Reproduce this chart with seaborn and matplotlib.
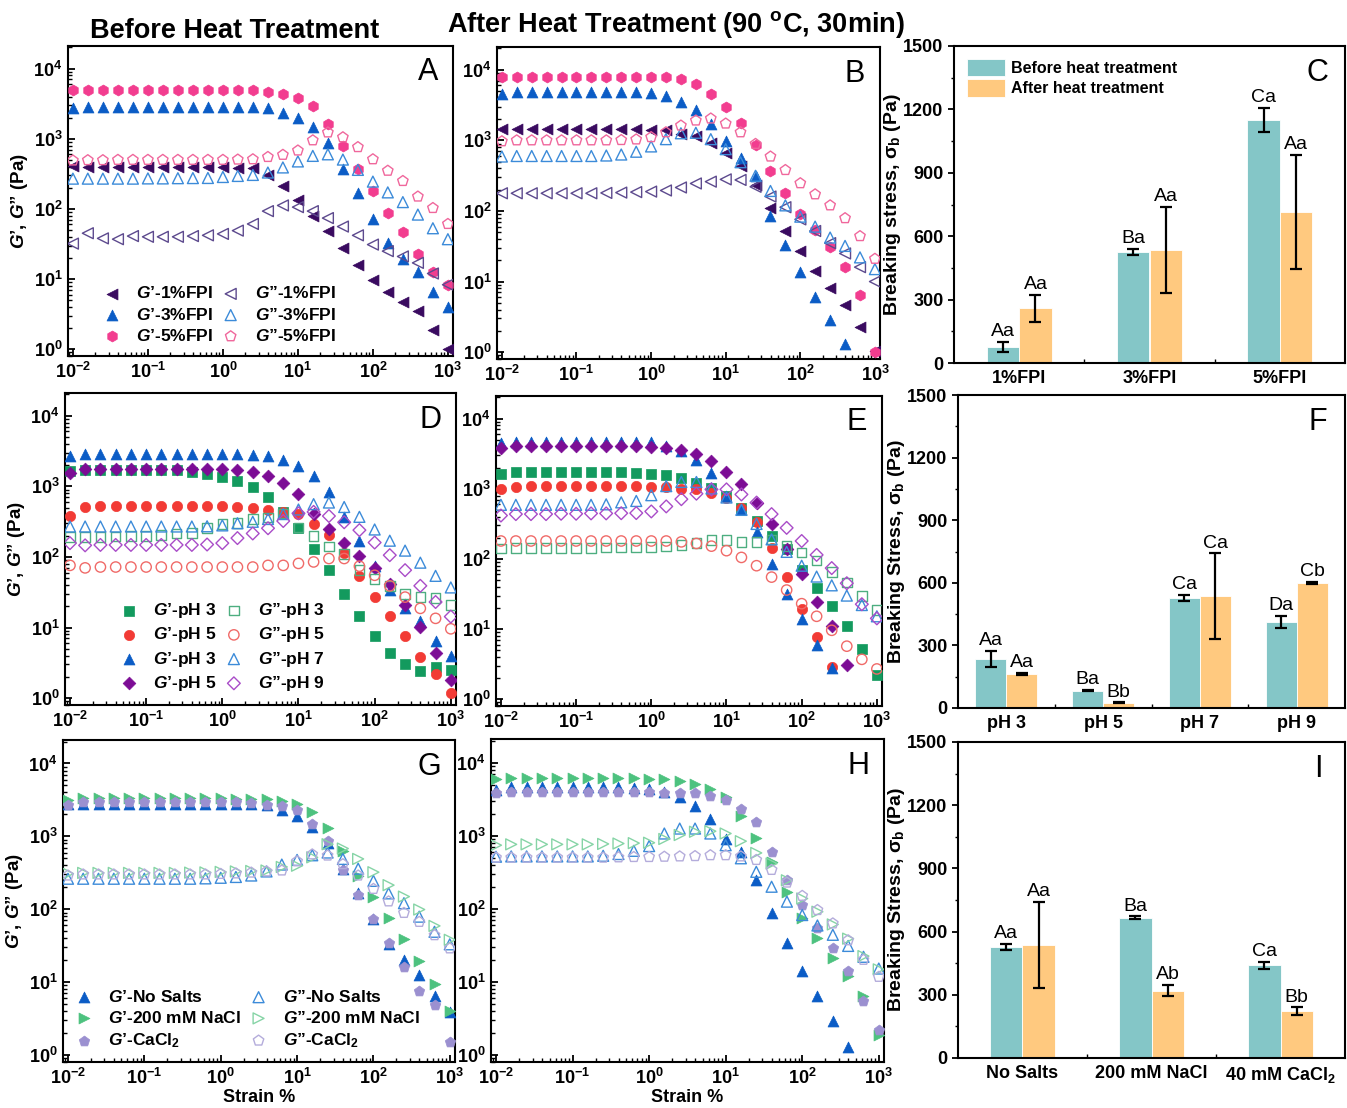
import numpy as np
import pandas as pd
import matplotlib
matplotlib.use("Agg")
import matplotlib.pyplot as plt
from matplotlib.ticker import LogLocator, FuncFormatter, NullFormatter, MultipleLocator, FixedLocator
from matplotlib.container import BarContainer
import seaborn as sns

nan = np.nan

# ---------------- data ----------------
strain = [0.01, 0.0158, 0.0251, 0.0398, 0.0631, 0.1, 0.158, 0.251, 0.398, 0.631,
          1, 1.58, 2.51, 3.98, 6.31, 10, 15.8, 25.1, 39.8, 63.1, 100, 158, 251, 398, 631, 1000]

# Panel A (before heat, FPI concentration)
Gp_1FPI_before = [405, 400, 400, 400, 400, 400, 398, 396, 395, 393, 390, 385, 380, 300, 215, 135, 80, 49, 28, 16, 9.7, 6.6, 4.7, 3.5, 1.9, 1.0]
Gpp_1FPI_before = [32, 45, 38, 37, 41, 40, 40, 40, 41, 42, 44, 49, 61, 93, 112, 106, 93, 74, 56, 42, 31, 25, 21, 17, 12, 8.3]
Gp_3FPI_before = [2760, 2850, 2880, 2880, 2880, 2880, 2880, 2880, 2870, 2860, 2850, 2840, 2800, 2700, 2330, 1990, 1470, 870, 370, 167, 72, 33, 19, 12.5, 6.5, 4.0]
Gpp_3FPI_before = [270, 270, 270, 270, 270, 272, 272, 274, 275, 276, 285, 295, 305, 330, 390, 475, 570, 600, 505, 360, 245, 172, 125, 83, 53, 37]
Gp_5FPI_before = [4900, 5000, 5000, 5000, 5000, 5000, 5000, 5000, 5000, 5000, 5000, 4950, 4900, 4650, 4300, 3850, 2900, 1600, 790, 370, 180, 88, 47, 23, 12.5, 8.3]
Gpp_5FPI_before = [490, 495, 495, 500, 500, 500, 500, 500, 500, 500, 500, 505, 510, 550, 590, 680, 950, 1230, 1050, 760, 510, 350, 250, 150, 103, 61]

# Panel B (after heat, FPI concentration)
Gp_1FPI_after = [1450, 1450, 1450, 1450, 1450, 1450, 1450, 1450, 1440, 1430, 1420, 1380, 1250, 1150, 920, 660, 430, 235, 110, 52, 27, 14, 8.2, 4.6, 2.3, 1.05]
Gpp_1FPI_after = [178, 178, 178, 178, 178, 178, 178, 180, 182, 185, 188, 195, 215, 245, 260, 280, 275, 220, 160, 113, 76, 52, 35, 25, 16, 10]
Gp_3FPI_after = [4600, 4800, 4800, 4800, 4800, 4800, 4800, 4800, 4800, 4800, 4700, 4200, 3500, 2650, 1730, 970, 560, 310, 85, 33, 13.7, 6.0, 2.9, 1.3, nan, nan]
Gpp_3FPI_after = [590, 600, 600, 600, 600, 600, 600, 610, 630, 690, 820, 1040, 1260, 1280, 1040, 750, 490, 315, 192, 120, 83, 60, 42, 32, 22, 15]
Gp_5FPI_after = [7900, 8000, 8000, 8000, 8000, 8000, 8000, 8000, 8000, 8000, 7900, 7900, 7300, 6200, 4600, 3000, 1770, 850, 370, 182, 91, 54, 31, 16, 6.4, 1.0]
Gpp_5FPI_after = [970, 1000, 1000, 1000, 1000, 1000, 1000, 1000, 1010, 1030, 1110, 1300, 1620, 1910, 2040, 1730, 1300, 890, 590, 380, 247, 172, 120, 79, 44, 21]

# Panel C (breaking stress, FPI)
cat_C = ['1%FPI', '3%FPI', '5%FPI']
before_C = [75, 525, 1150]
before_err_C = [25, 15, 58]
after_C = [258, 535, 715]
after_err_C = [65, 205, 270]
before_lab_C = ['Aa', 'Ba', 'Ca']
after_lab_C = ['Aa', 'Aa', 'Aa']

# Panel D (before heat, pH)
Gp_pH3_before = [1670, 1700, 1700, 1700, 1700, 1700, 1700, 1700, 1600, 1480, 1350, 1210, 980, 710, 440, 260, 130, 66, 30, 14.7, 7.5, 4.4, 3.0, 2.4, 2.8, 2.5]
Gpp_pH3_before = [190, 190, 192, 195, 197, 200, 205, 215, 220, 255, 290, 300, 345, 360, 415, 260, 200, 140, 110, 66, 49, 39, 30, 27, 26, 21]
Gp_pH5_before = [380, 510, 520, 520, 520, 520, 520, 520, 520, 520, 520, 515, 500, 470, 440, 400, 295, 205, 114, 54, 27.5, 14.4, 7.5, 3.8, 2.2, 1.2]
Gpp_pH5_before = [76, 70, 72, 72, 72, 72, 72, 72, 72, 72, 72, 72, 72, 76, 76, 81, 85, 95, 95, 74, 55, 39, 27, 18.7, 13.5, 9.6]
Gp_pH7_before = [2700, 2850, 2850, 2850, 2850, 2850, 2850, 2850, 2850, 2850, 2850, 2850, 2800, 2650, 2350, 1970, 1420, 830, 370, 166, 74, 34, 19, 12.3, 6.4, 4.0]
Gpp_pH7_before = [270, 270, 270, 270, 270, 270, 270, 270, 270, 272, 280, 300, 315, 345, 405, 470, 560, 590, 510, 370, 245, 170, 123, 83, 54, 37]
Gp_pH9_before = [1560, 1750, 1750, 1750, 1750, 1750, 1750, 1750, 1750, 1750, 1750, 1700, 1590, 1390, 1120, 770, 410, 245, 157, 102, 69, 41, 21, 10.3, 4.3, 1.8]
Gpp_pH9_before = [157, 146, 148, 148, 148, 148, 148, 148, 148, 150, 157, 185, 215, 255, 323, 415, 435, 380, 310, 240, 160, 106, 65, 39, 23, 14.3]

# Panel E (after heat, pH)
Gp_pH3_after = [1620, 1730, 1730, 1730, 1730, 1730, 1730, 1730, 1710, 1680, 1620, 1550, 1420, 1210, 1030, 790, 540, 350, 213, 140, 70, 39, 21, 11, 5.2, 2.2]
Gpp_pH3_after = [141, 143, 143, 143, 143, 143, 143, 145, 145, 146, 148, 150, 157, 170, 185, 185, 175, 175, 190, 154, 124, 95, 65, 46, 29.6, 18.7]
Gp_pH5_after = [980, 1050, 1090, 1090, 1090, 1090, 1090, 1090, 1080, 1080, 1070, 1050, 1000, 980, 860, 750, 540, 340, 144, 55, 19.6, 7.7, 2.9, nan, nan, nan]
Gpp_pH5_after = [180, 180, 180, 180, 180, 180, 180, 180, 180, 180, 180, 180, 175, 166, 152, 131, 105, 80, 55, 36, 23, 15.2, 9.6, 5.7, 3.7, 2.7]
Gp_pH7_after = [4500, 4700, 4700, 4700, 4700, 4700, 4700, 4700, 4700, 4700, 4650, 4100, 3450, 2600, 1700, 790, 510, 240, 85, 32, 13.7, 5.9, 2.8, nan, nan, nan]
Gpp_pH7_after = [590, 590, 590, 590, 590, 590, 590, 600, 640, 670, 810, 1090, 1250, 1250, 1010, 750, 500, 315, 190, 126, 80, 56, 42, 30, 22, 15.2]
Gp_pH9_after = [3800, 4100, 4100, 4100, 4100, 4100, 4100, 4100, 4100, 4050, 4000, 3800, 3550, 3100, 2450, 1730, 1150, 620, 315, 140, 60, 24.5, 11.2, 3.1, nan, nan]
Gpp_pH9_after = [415, 435, 435, 435, 440, 440, 445, 445, 448, 450, 475, 560, 710, 850, 980, 980, 830, 635, 435, 277, 180, 114, 74, 45, 22.6, 14.2]

# Panel F (breaking stress, pH)
cat_F = ['pH 3', 'pH 5', 'pH 7', 'pH 9']
before_F = [235, 83, 527, 413]
before_err_F = [40, 3, 15, 30]
after_F = [163, 25, 537, 600]
after_err_F = [7, 2, 205, 5]
before_lab_F = ['Aa', 'Ba', 'Ca', 'Da']
after_lab_F = ['Aa', 'Bb', 'Ca', 'Cb']

# Panel G (before heat, salts)
Gp_NoSalt_before = [2800, 2800, 2800, 2800, 2800, 2800, 2800, 2800, 2800, 2800, 2800, 2780, 2750, 2700, 2280, 1910, 1350, 810, 360, 165, 73, 33, 20, 12.4, 6.5, 3.9]
Gp_NaCl_before = [3150, 3320, 3320, 3320, 3320, 3320, 3320, 3320, 3320, 3320, 3320, 3300, 3280, 3250, 3100, 2800, 2150, 1290, 620, 290, 145, 76, 39, 19.5, 9.5, 4.0]
Gp_CaCl2_before = [2700, 2950, 2950, 2950, 2950, 2950, 2950, 2950, 2950, 2950, 2950, 2930, 2900, 2700, 2570, 2280, 1500, 860, 350, 158, 73, 34, 15.9, 7.6, 4.9, 1.5]
Gpp_NoSalt_before = [262, 262, 262, 262, 262, 262, 262, 262, 262, 265, 270, 277, 290, 330, 410, 475, 550, 600, 490, 360, 245, 165, 121, 79, 49, 33]
Gpp_NaCl_before = [308, 315, 315, 315, 315, 315, 315, 315, 318, 320, 325, 330, 335, 340, 380, 395, 515, 780, 680, 490, 322, 214, 149, 99, 59, 38]
Gpp_CaCl2_before = [290, 300, 300, 300, 300, 300, 300, 300, 300, 300, 305, 310, 318, 330, 340, 455, 565, 545, 415, 290, 190, 128, 89, 67, 44, 29]

# Panel H (after heat, salts)
Gp_NoSalt_after = [4200, 4650, 4650, 4650, 4650, 4650, 4650, 4650, 4650, 4550, 4400, 4000, 3400, 2520, 1700, 890, 600, 245, 88, 34, 14.2, 6.3, 2.95, 1.3, nan, nan]
Gp_NaCl_after = [6000, 6150, 6150, 6150, 6150, 6150, 6150, 6150, 6150, 6100, 6000, 5900, 5600, 5150, 4300, 3400, 1850, 920, 440, 170, 74, 40, 21, 12, 6.3, 1.9]
Gp_CaCl2_after = [3850, 4000, 4000, 4000, 4000, 4000, 4000, 4000, 4000, 4000, 4000, 3850, 3850, 3800, 3500, 3050, 2350, 1550, 600, 250, 112, 55, 29, 14.2, 5.4, 2.2]
Gpp_NoSalt_after = [515, 520, 520, 520, 520, 520, 520, 530, 560, 620, 720, 1070, 1250, 1250, 1070, 740, 490, 320, 200, 125, 82, 59, 44, 31, 22, 15.2]
Gpp_NaCl_after = [740, 760, 760, 760, 760, 760, 760, 770, 780, 790, 800, 900, 1020, 1130, 1150, 1070, 840, 580, 415, 245, 138, 91, 61, 39, 22.5, 14.8]
Gpp_CaCl2_after = [500, 500, 500, 500, 500, 500, 500, 500, 505, 510, 510, 515, 520, 525, 540, 540, 520, 465, 340, 228, 150, 96, 63, 37, 20, 11.7]

# Panel I (breaking stress, salts)
cat_I = ['No Salts', '200 mM NaCl', r'40 mM CaCl$_\mathbf{2}$']
before_I = [527, 665, 440]
before_err_I = [15, 7, 18]
after_I = [537, 320, 222]
after_err_I = [205, 28, 18]
before_lab_I = ['Aa', 'Ba', 'Ca']
after_lab_I = ['Aa', 'Ab', 'Bb']

# ---------------- style ----------------
plt.rcParams['font.family'] = ['Liberation Sans', 'DejaVu Sans']
plt.rcParams['font.weight'] = 'bold'
plt.rcParams['axes.labelweight'] = 'bold'
plt.rcParams['mathtext.fontset'] = 'custom'
plt.rcParams['mathtext.rm'] = 'Liberation Sans'
plt.rcParams['mathtext.it'] = 'Liberation Sans:italic'
plt.rcParams['mathtext.bf'] = 'Liberation Sans:bold'
plt.rcParams['mathtext.bfit'] = 'Liberation Sans:italic:bold'
plt.rcParams['mathtext.sf'] = 'Liberation Sans'
plt.rcParams['axes.linewidth'] = 1.5

W, H = 1347, 1108
fig = plt.figure(figsize=(W / 100, H / 100), dpi=100)


def rect(l, r, t, b):
    return [l / W, 1 - b / H, (r - l) / W, (b - t) / H]


GP = "$\\mathbfit{G}$\u2019"
GPP = "$\\mathbfit{G}$\u201D"

C_TEAL = '#84C6C7'
C_ORANGE = '#FFC97F'


def log_panel(box, series, letter, legend_kw=None, xlabel=False, ylabel=True):
    ax = fig.add_axes(rect(*box))
    for vals, marker, color, filled, size, label in series:
        if filled:
            sns.scatterplot(x=strain, y=vals, marker=marker, s=size, color=color,
                            edgecolor=color, linewidth=0.5, ax=ax, label=label, zorder=3)
        else:
            sns.scatterplot(x=strain, y=vals, marker=marker, s=size, facecolor='none',
                            edgecolor=color, linewidth=1.0, ax=ax, label=label, zorder=3)
    ax.set_xscale('log')
    ax.set_yscale('log')
    ax.set_xlim(0.0086, 1170)
    ax.set_ylim(0.8, 2.1e4)
    fmt = FuncFormatter(lambda v, p: r'$\mathbf{10^{%d}}$' % int(round(np.log10(v))))
    for axis in (ax.xaxis, ax.yaxis):
        axis.set_major_locator(LogLocator(base=10, numticks=12))
        axis.set_minor_locator(LogLocator(base=10, subs=np.arange(2, 10), numticks=12))
        axis.set_major_formatter(fmt)
        axis.set_minor_formatter(NullFormatter())
    ax.tick_params(which='major', direction='in', length=5, width=1.3, labelsize=13, pad=4)
    ax.tick_params(which='minor', direction='in', length=3, width=1.0)
    if ylabel:
        ax.set_ylabel(GP + ', ' + GPP + ' (Pa)', fontsize=13.5, labelpad=2)
    else:
        ax.set_ylabel('')
    if xlabel:
        ax.set_xlabel('Strain %', fontsize=13, labelpad=1)
    else:
        ax.set_xlabel('')
    ax.text(0.935, 0.915, letter, transform=ax.transAxes, ha='center', va='center',
            fontsize=22, fontweight='normal')
    if legend_kw is not None:
        ax.legend(frameon=False, ncol=2, prop={'size': 12.5, 'weight': 'bold'},
                  handletextpad=0.9, columnspacing=0.5, labelspacing=0.3,
                  borderpad=0.2, handlelength=1.0, **legend_kw)
    else:
        lg = ax.get_legend()
        if lg is not None:
            lg.remove()
    return ax


def bar_panel(box, cats, bvals, berr, avals, aerr, blab, alab, letter, ylabel,
              width, legend=False):
    ax = fig.add_axes(rect(*box))
    df = pd.DataFrame({
        'group': list(cats) + list(cats),
        'treat': ['Before heat treatment'] * len(cats) + ['After heat treatment'] * len(cats),
        'value': list(bvals) + list(avals),
    })
    sns.barplot(data=df, x='group', y='value', hue='treat',
                hue_order=['Before heat treatment', 'After heat treatment'],
                palette=[C_TEAL, C_ORANGE], saturation=1, width=width,
                errorbar=None, legend=False, ax=ax, edgecolor='white', linewidth=0.6)
    bars = [c for c in ax.containers if isinstance(c, BarContainer)]
    for cont, vals, errs, labs in zip(bars, [bvals, avals], [berr, aerr], [blab, alab]):
        for patch, v, e, lab in zip(cont, vals, errs, labs):
            xc = patch.get_x() + patch.get_width() / 2
            ax.errorbar(xc, v, yerr=e, fmt='none', ecolor='black', elinewidth=1.6,
                        capsize=4.5, capthick=1.6, zorder=4)
            ax.text(xc, v + e + 8, lab, ha='center', va='bottom', fontsize=14,
                    fontweight='normal')
    ax.set_ylim(0, 1500)
    ax.set_xlim(-0.5, len(cats) - 0.5)
    ax.yaxis.set_major_locator(MultipleLocator(300))
    ax.yaxis.set_minor_locator(MultipleLocator(150))
    ax.xaxis.set_minor_locator(FixedLocator(np.arange(0.5, len(cats) - 0.5, 1.0)))
    ax.tick_params(axis='y', which='major', direction='out', length=4, width=1.3, labelsize=13)
    ax.tick_params(axis='y', which='minor', direction='out', length=2.5, width=1.0)
    ax.tick_params(axis='x', which='major', length=0, labelsize=13, pad=5)
    ax.tick_params(axis='x', which='minor', direction='in', length=3, width=1.0)
    ax.set_xlabel('')
    ax.set_ylabel(ylabel, fontsize=14, labelpad=0)
    ax.text(0.93, 0.915, letter, transform=ax.transAxes, ha='center', va='center',
            fontsize=22, fontweight='normal')
    if legend:
        ax.legend(handles=bars, labels=['Before heat treatment', 'After heat treatment'],
                  loc='upper left', bbox_to_anchor=(0.0, 1.0), frameon=False,
                  prop={'size': 11.5, 'weight': 'bold'}, handlelength=2.4, handleheight=1.3,
                  handletextpad=0.4, labelspacing=0.2, borderpad=0.3)
    return ax


# colors
c_dp = '#3A0B60'; c_dp_o = '#5D4A8E'
c_bl = '#0B5CC6'; c_bl_o = '#3C8BD9'
c_pk = '#F23D8F'; c_pk_o = '#F0679C'
c_gr = '#139A5E'; c_gr_o = '#4DAE80'
c_rd = '#F23B35'; c_rd_o = '#F06A68'
c_pu = '#7C0C95'; c_pu_o = '#A94CC8'
c_mg = '#4DC27F'; c_mg_o = '#86D4A6'
c_lv = '#9B90D0'; c_lv_o = '#B4ACDB'

S = 62
seriesA = [
    (Gp_1FPI_before, '<', c_dp, True, S, GP + '-1%FPI'),
    (Gp_3FPI_before, '^', c_bl, True, S, GP + '-3%FPI'),
    (Gp_5FPI_before, 'h', c_pk, True, S, GP + '-5%FPI'),
    (Gpp_1FPI_before, '<', c_dp_o, False, S, GPP + '-1%FPI'),
    (Gpp_3FPI_before, '^', c_bl_o, False, S, GPP + '-3%FPI'),
    (Gpp_5FPI_before, 'p', c_pk_o, False, S, GPP + '-5%FPI'),
]
seriesB = [
    (Gp_1FPI_after, '<', c_dp, True, S, None),
    (Gp_3FPI_after, '^', c_bl, True, S, None),
    (Gp_5FPI_after, 'h', c_pk, True, S, None),
    (Gpp_1FPI_after, '<', c_dp_o, False, S, None),
    (Gpp_3FPI_after, '^', c_bl_o, False, S, None),
    (Gpp_5FPI_after, 'p', c_pk_o, False, S, None),
]
seriesD = [
    (Gp_pH3_before, 's', c_gr, True, 48, GP + '-pH 3'),
    (Gp_pH5_before, 'o', c_rd, True, 55, GP + '-pH 5'),
    (Gp_pH7_before, '^', c_bl, True, S, GP + '-pH 3'),
    (Gp_pH9_before, 'D', c_pu, True, 42, GP + '-pH 5'),
    (Gpp_pH3_before, 's', c_gr_o, False, 48, GPP + '-pH 3'),
    (Gpp_pH5_before, 'o', c_rd_o, False, 55, GPP + '-pH 5'),
    (Gpp_pH7_before, '^', c_bl_o, False, S, GPP + '-pH 7'),
    (Gpp_pH9_before, 'D', c_pu_o, False, 42, GPP + '-pH 9'),
]
seriesE = [
    (Gp_pH3_after, 's', c_gr, True, 48, None),
    (Gp_pH5_after, 'o', c_rd, True, 55, None),
    (Gp_pH7_after, '^', c_bl, True, S, None),
    (Gp_pH9_after, 'D', c_pu, True, 42, None),
    (Gpp_pH3_after, 's', c_gr_o, False, 48, None),
    (Gpp_pH5_after, 'o', c_rd_o, False, 55, None),
    (Gpp_pH7_after, '^', c_bl_o, False, S, None),
    (Gpp_pH9_after, 'D', c_pu_o, False, 42, None),
]
seriesG = [
    (Gp_NoSalt_before, '^', c_bl, True, S, GP + '-No Salts'),
    (Gp_NaCl_before, '>', c_mg, True, S, GP + '-200 mM NaCl'),
    (Gp_CaCl2_before, 'p', c_lv, True, S, GP + r'-CaCl$_\mathbf{2}$'),
    (Gpp_NoSalt_before, '^', c_bl_o, False, S, GPP + '-No Salts'),
    (Gpp_NaCl_before, '>', c_mg_o, False, S, GPP + '-200 mM NaCl'),
    (Gpp_CaCl2_before, 'p', c_lv_o, False, S, GPP + r'-CaCl$_\mathbf{2}$'),
]
seriesH = [
    (Gp_NoSalt_after, '^', c_bl, True, S, None),
    (Gp_NaCl_after, '>', c_mg, True, S, None),
    (Gp_CaCl2_after, 'p', c_lv, True, S, None),
    (Gpp_NoSalt_after, '^', c_bl_o, False, S, None),
    (Gpp_NaCl_after, '>', c_mg_o, False, S, None),
    (Gpp_CaCl2_after, 'p', c_lv_o, False, S, None),
]

log_panel((68, 453, 46, 356), seriesA, 'A',
          legend_kw=dict(loc='lower left', bbox_to_anchor=(0.06, 0.0)))
log_panel((497, 880, 47, 359), seriesB, 'B', ylabel=False)
bar_panel((954, 1345, 46, 363), cat_C, before_C, before_err_C, after_C, after_err_C,
          before_lab_C, after_lab_C, 'C', r'Breaking stress, $\mathbf{\sigma_b}$ (Pa)',
          width=0.5, legend=True)

log_panel((65, 456, 393, 705), seriesD, 'D',
          legend_kw=dict(loc='lower left', bbox_to_anchor=(0.11, 0.0)))
log_panel((496, 882, 396, 706), seriesE, 'E', ylabel=False)
bar_panel((958, 1345, 395, 708), cat_F, before_F, before_err_F, after_F, after_err_F,
          before_lab_F, after_lab_F, 'F', r'Breaking Stress, $\mathbf{\sigma_b}$ (Pa)',
          width=0.64)

log_panel((63, 455, 740, 1062), seriesG, 'G',
          legend_kw=dict(loc='lower left', bbox_to_anchor=(0.0, 0.0)), xlabel=True)
log_panel((491, 884, 739, 1062), seriesH, 'H', xlabel=True, ylabel=False)
bar_panel((958, 1345, 742, 1058), cat_I, before_I, before_err_I, after_I, after_err_I,
          before_lab_I, after_lab_I, 'I', r'Breaking Stress, $\mathbf{\sigma_b}$ (Pa)',
          width=0.5)

fig.text(235 / W, 1 - 31 / H, 'Before Heat Treatment', ha='center', va='center',
         fontsize=19.5, fontweight='bold')
fig.text(676 / W, 1 - 25 / H, r'After Heat Treatment (90 $^{\mathbf{o}}$C, 30min)',
         ha='center', va='center', fontsize=19.5, fontweight='bold')

fig.savefig('out.png', dpi=100)
